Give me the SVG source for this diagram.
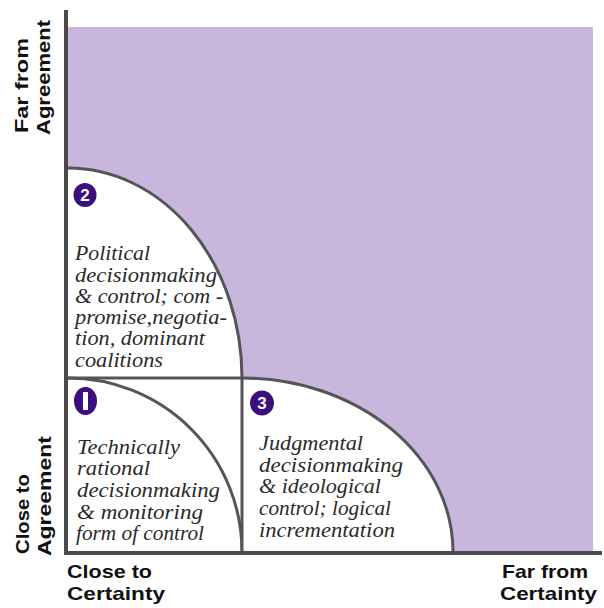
<svg xmlns="http://www.w3.org/2000/svg" width="604" height="608" viewBox="0 0 604 608">
<style>
.box{fill:#ffffff;stroke:none}
.ln{fill:none;stroke:#555555;stroke-width:3}
.ax{fill:none;stroke:#4a4a4a;stroke-width:4}
.t{font-family:"Liberation Serif","Times New Roman",serif;font-style:italic;font-size:20px;fill:#2a2a2a}
.lab{font-family:"Liberation Sans",Arial,sans-serif;font-weight:700;font-size:19px;fill:#111111}
.badge{fill:#3b0f7e}
.num{font-family:"Liberation Sans",Arial,sans-serif;font-weight:700;font-size:17px;fill:#ffffff;text-anchor:middle}
</style>
<rect x="0" y="0" width="604" height="608" fill="#ffffff"/>
<rect id="field" x="68" y="27" width="525" height="526" fill="#c8b6dc"/>

<g id="quadrant2">
<path class="box" d="M68,378 L68,168 A174,210 0 0 1 242,378 Z"/>
<path class="ln" d="M68,168 A174,210 0 0 1 242,378"/>
<ellipse class="badge" cx="85" cy="195" rx="11.5" ry="12"/>
<text class="num" x="85" y="201">2</text>
<text class="t" x="75" y="260" textLength="75" lengthAdjust="spacingAndGlyphs">Political</text>
<text class="t" x="75" y="282" textLength="142" lengthAdjust="spacingAndGlyphs">decisionmaking</text>
<text class="t" x="75" y="303" textLength="148" lengthAdjust="spacingAndGlyphs">&amp; control; com -</text>
<text class="t" x="75" y="324" textLength="152" lengthAdjust="spacingAndGlyphs">promise,negotia-</text>
<text class="t" x="75" y="345" textLength="130" lengthAdjust="spacingAndGlyphs">tion, dominant</text>
<text class="t" x="75" y="367" textLength="88" lengthAdjust="spacingAndGlyphs">coalitions</text>
</g>

<g id="quadrant1">
<rect class="box" x="68" y="378" width="174" height="174"/>
<path class="ln" d="M68,378 A174,174 0 0 1 242,552"/>
<ellipse class="badge" cx="85.5" cy="401" rx="11.5" ry="14"/>
<rect x="83" y="392" width="5" height="18" fill="#ffffff"/>
<text class="t" x="77" y="454" textLength="103" lengthAdjust="spacingAndGlyphs">Technically</text>
<text class="t" x="77" y="475" textLength="73" lengthAdjust="spacingAndGlyphs">rational</text>
<text class="t" x="77" y="497" textLength="143" lengthAdjust="spacingAndGlyphs">decisionmaking</text>
<text class="t" x="77" y="519" textLength="126" lengthAdjust="spacingAndGlyphs">&amp; monitoring</text>
<text class="t" x="76" y="540" textLength="128" lengthAdjust="spacingAndGlyphs">form of control</text>
</g>

<g id="quadrant3">
<path class="box" d="M242,552 L242,378 A211,174 0 0 1 453,552 Z"/>
<path class="ln" d="M242,378 A211,174 0 0 1 453,552"/>
<ellipse class="badge" cx="262" cy="403" rx="12" ry="12.5"/>
<text class="num" x="262" y="409">3</text>
<text class="t" x="259" y="450" textLength="104" lengthAdjust="spacingAndGlyphs">Judgmental</text>
<text class="t" x="259" y="472" textLength="144" lengthAdjust="spacingAndGlyphs">decisionmaking</text>
<text class="t" x="259" y="493" textLength="122" lengthAdjust="spacingAndGlyphs">&amp; ideological</text>
<text class="t" x="259" y="515" textLength="132" lengthAdjust="spacingAndGlyphs">control; logical</text>
<text class="t" x="259" y="537" textLength="136" lengthAdjust="spacingAndGlyphs">incrementation</text>
</g>

<g id="connectors">
<line class="ln" x1="66" y1="378" x2="242" y2="378"/>
<line class="ln" x1="242" y1="378" x2="242" y2="553"/>
<line class="ax" x1="66" y1="10" x2="66" y2="555"/>
<line class="ax" x1="64" y1="553" x2="602" y2="553"/>
</g>

<g id="xlabel-close">
<text class="lab" x="67" y="578" textLength="85" lengthAdjust="spacingAndGlyphs">Close to</text>
<text class="lab" x="67" y="600" textLength="98" lengthAdjust="spacingAndGlyphs">Certainty</text>
</g>
<g id="xlabel-far">
<text class="lab" x="502" y="578" textLength="86" lengthAdjust="spacingAndGlyphs">Far from</text>
<text class="lab" x="500" y="600" textLength="97" lengthAdjust="spacingAndGlyphs">Certainty</text>
</g>
<g id="ylabel-far">
<text class="lab" transform="translate(28,133) rotate(-90)" textLength="95" lengthAdjust="spacingAndGlyphs">Far from</text>
<text class="lab" transform="translate(50,135) rotate(-90)" textLength="115" lengthAdjust="spacingAndGlyphs">Agreement</text>
</g>
<g id="ylabel-close">
<text class="lab" transform="translate(29,554) rotate(-90)" textLength="80" lengthAdjust="spacingAndGlyphs">Close to</text>
<text class="lab" transform="translate(51,556) rotate(-90)" textLength="120" lengthAdjust="spacingAndGlyphs">Agreement</text>
</g>
</svg>
